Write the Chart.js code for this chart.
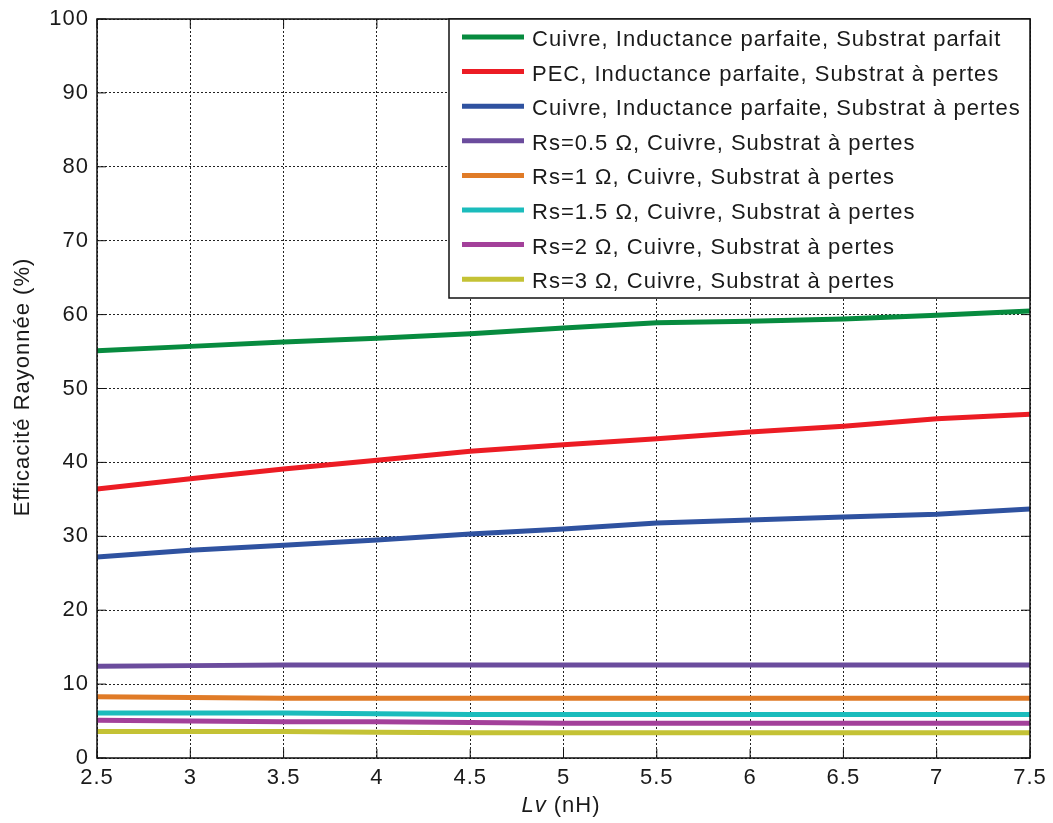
<!DOCTYPE html>
<html><head><meta charset="utf-8">
<script src="https://cdn.jsdelivr.net/npm/chart.js@4"></script>
<style>html,body{margin:0;padding:0;background:#fff}#wrap{width:1053px;height:823px}</style>
</head><body><div id="wrap"><canvas id="c" width="1053" height="823"></canvas></div>
<script>
const lvValues = [2.5, 3, 3.5, 4, 4.5, 5, 5.5, 6, 6.5, 7, 7.5];
const seriesLabels = [
  "Cuivre, Inductance parfaite, Substrat parfait",
  "PEC, Inductance parfaite, Substrat à pertes",
  "Cuivre, Inductance parfaite, Substrat à pertes",
  "Rs=0.5 Ω, Cuivre, Substrat à pertes",
  "Rs=1 Ω, Cuivre, Substrat à pertes",
  "Rs=1.5 Ω, Cuivre, Substrat à pertes",
  "Rs=2 Ω, Cuivre, Substrat à pertes",
  "Rs=3 Ω, Cuivre, Substrat à pertes"
];
const cuivreParfait = [55.1, 55.7, 56.3, 56.8, 57.4, 58.2, 58.9, 59.1, 59.4, 59.9, 60.5];
const pecPertes     = [36.4, 37.8, 39.1, 40.3, 41.5, 42.4, 43.2, 44.1, 44.9, 45.9, 46.5];
const cuivrePertes  = [27.2, 28.1, 28.8, 29.5, 30.3, 31.0, 31.8, 32.2, 32.6, 33.0, 33.7];
const rs05 = [12.4, 12.5, 12.6, 12.6, 12.6, 12.6, 12.6, 12.6, 12.6, 12.6, 12.6];
const rs1  = [8.3, 8.2, 8.1, 8.1, 8.1, 8.1, 8.1, 8.1, 8.1, 8.1, 8.1];
const rs15 = [6.1, 6.1, 6.1, 6.0, 5.9, 5.9, 5.9, 5.9, 5.9, 5.9, 5.9];
const rs2  = [5.1, 5.0, 4.9, 4.9, 4.8, 4.7, 4.7, 4.7, 4.7, 4.7, 4.7];
const rs3  = [3.6, 3.6, 3.6, 3.5, 3.4, 3.4, 3.4, 3.4, 3.4, 3.4, 3.4];
const yTicks = [0,10,20,30,40,50,60,70,80,90,100];

const allSeries = [cuivreParfait, pecPertes, cuivrePertes, rs05, rs1, rs15, rs2, rs3];
const colors = ['#078b3f','#ec1c24','#2f52a0','#6b4c9d','#e07b27','#1bbcbc','#a3409a','#c4c235'];
const FONT = '"Liberation Sans", Arial, sans-serif';
const SPACING = '1px';

const datasets = allSeries.map((s, i) => ({
  label: seriesLabels[i],
  data: s.map((v, j) => ({x: lvValues[j], y: v})),
  borderColor: colors[i],
  backgroundColor: colors[i],
  borderWidth: 5,
  pointRadius: 0,
  tension: 0,
  fill: false
}));

const framePlugin = {
  id: 'frame',
  beforeUpdate(chart) { chart.ctx.letterSpacing = SPACING; },
  beforeDraw(chart) { chart.ctx.letterSpacing = SPACING; },
  afterDatasetsDraw(chart) {
    const {ctx, chartArea: a} = chart;
    ctx.save();
    ctx.strokeStyle = '#111';
    ctx.lineWidth = 1.5;
    ctx.strokeRect(a.left, a.top, a.right - a.left, a.bottom - a.top);
    const xs = chart.scales.x, ys = chart.scales.y;
    ctx.lineWidth = 1;
    lvValues.forEach(v => {
      const px = xs.getPixelForValue(v);
      ctx.beginPath(); ctx.moveTo(px, a.bottom); ctx.lineTo(px, a.bottom - 9); ctx.stroke();
      ctx.beginPath(); ctx.moveTo(px, a.top); ctx.lineTo(px, a.top + 9); ctx.stroke();
    });
    yTicks.forEach(v => {
      const py = ys.getPixelForValue(v);
      ctx.beginPath(); ctx.moveTo(a.left, py); ctx.lineTo(a.left + 9, py); ctx.stroke();
      ctx.beginPath(); ctx.moveTo(a.right, py); ctx.lineTo(a.right - 9, py); ctx.stroke();
    });
    const lx = 449, ly = a.top, lw = a.right - 449, lh = 279;
    ctx.fillStyle = '#fff';
    ctx.fillRect(lx, ly, lw, lh);
    ctx.strokeStyle = '#111';
    ctx.lineWidth = 1.5;
    ctx.strokeRect(lx, ly, lw, lh);
    ctx.font = '22px ' + FONT;
    ctx.letterSpacing = SPACING;
    ctx.textBaseline = 'middle';
    ctx.textAlign = 'left';
    chart.data.datasets.forEach((d, i) => {
      const y = ly + 18 + i * 34.6;
      ctx.strokeStyle = d.borderColor;
      ctx.lineWidth = 5;
      ctx.beginPath(); ctx.moveTo(462, y); ctx.lineTo(524, y); ctx.stroke();
      ctx.fillStyle = '#1a1a1a';
      ctx.fillText(d.label, 532, y + 3);
    });
    ctx.restore();
  },
  afterDraw(chart) {
    const {ctx} = chart;
    ctx.save();
    ctx.letterSpacing = SPACING;
    ctx.fillStyle = '#1a1a1a';
    ctx.font = '22px ' + FONT;
    ctx.translate(23, 387);
    ctx.rotate(-Math.PI / 2);
    ctx.textAlign = 'center';
    ctx.textBaseline = 'middle';
    ctx.fillText('Efficacité Rayonnée (%)', 0, 0);
    ctx.restore();
    ctx.save();
    ctx.letterSpacing = SPACING;
    ctx.fillStyle = '#1a1a1a';
    ctx.textBaseline = 'middle';
    ctx.textAlign = 'left';
    const italic = 'italic 22px ' + FONT, normal = '22px ' + FONT;
    ctx.font = italic; const w1 = ctx.measureText('Lv').width;
    ctx.font = normal; const w2 = ctx.measureText(' (nH)').width;
    const sx = 561 - (w1 + w2) / 2;
    ctx.font = italic; ctx.fillText('Lv', sx, 806);
    ctx.font = normal; ctx.fillText(' (nH)', sx + w1, 806);
    ctx.restore();
  }
};

new Chart(document.getElementById('c'), {
  type: 'line',
  data: { datasets },
  options: {
    responsive: false,
    animation: false,
    layout: { padding: { left: 0, top: 19, right: 23, bottom: 0 } },
    plugins: { legend: { display: false }, tooltip: { enabled: false } },
    scales: {
      x: {
        type: 'linear', min: 2.5, max: 7.5,
        afterFit: s => { s.height = 65; s.paddingLeft = 0; s.paddingRight = 0; },
        afterBuildTicks: s => { s.ticks = lvValues.map(v => ({value: v})); },
        ticks: { color: '#1a1a1a', font: { family: FONT, size: 22 }, padding: 7, maxRotation: 0, autoSkip: false,
                 callback: v => String(v) },
        grid: { color: '#222', lineWidth: 1, drawTicks: false },
        border: { display: false, dash: [2, 2] }
      },
      y: {
        min: 0, max: 100,
        afterFit: s => { s.width = 97; s.paddingTop = 0; s.paddingBottom = 0; },
        afterBuildTicks: s => { s.ticks = yTicks.map(v => ({value: v})); },
        ticks: { color: '#1a1a1a', font: { family: FONT, size: 22 }, padding: 8, autoSkip: false },
        grid: { color: '#222', lineWidth: 1, drawTicks: false },
        border: { display: false, dash: [2, 2] }
      }
    }
  },
  plugins: [framePlugin]
});
</script>
</body></html>
